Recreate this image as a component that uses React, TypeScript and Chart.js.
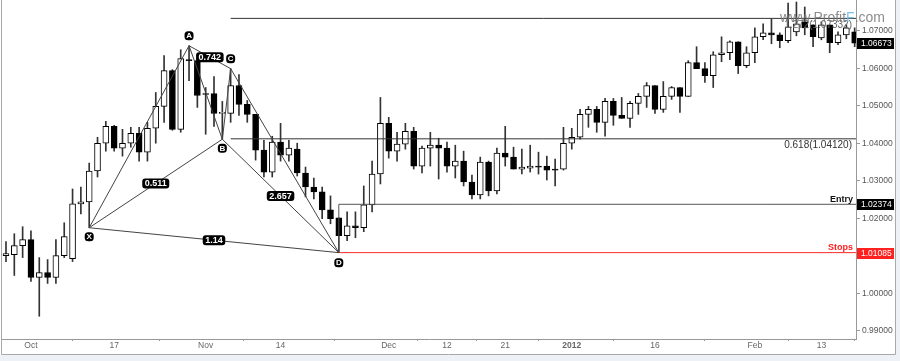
import React, { useEffect, useRef } from 'react';
import { Chart, registerables } from 'chart.js';
Chart.register(...registerables);

// Daily candles, 28 Sep 2011 .. 17 Feb 2012 (business days)
const opens = [
  1.01006, 1.01033, 1.01272, 1.01431, 1.00423, 1.00556, 1.00423, 1.01006, 1.00927, 1.02385,
  1.02438, 1.03261, 1.04003, 1.04454, 1.03871, 1.04003, 1.04268, 1.03764, 1.04401, 1.04984,
  1.05939, 1.04374, 1.06231, 1.06204, 1.05329, 1.05329, 1.04799, 1.04799, 1.05541, 1.05037,
  1.04772, 1.03817, 1.03234, 1.04030, 1.03685, 1.03844, 1.03208, 1.02836, 1.02704, 1.02226,
  1.02014, 1.01537, 1.01802, 1.01749, 1.02359, 1.03181, 1.04534, 1.03791, 1.03977, 1.04321,
  1.03393, 1.03871, 1.03950, 1.03871, 1.03393, 1.03526, 1.02969, 1.02624, 1.03499, 1.02730,
  1.03738, 1.03632, 1.03314, 1.03340, 1.03393, 1.03393, 1.03314, 1.03314, 1.04003, 1.04162,
  1.04772, 1.04905, 1.04560, 1.05117, 1.04746, 1.04666, 1.05064, 1.05250, 1.05541, 1.04905,
  1.05250, 1.05488, 1.05250, 1.06151, 1.05992, 1.05807, 1.06363, 1.06416, 1.06708, 1.06072,
  1.06416, 1.06841, 1.06947, 1.06894, 1.06735, 1.06973, 1.07239, 1.07159, 1.06814, 1.07159,
  1.06682, 1.06894, 1.06973,
];
const highs = [
  1.01378, 1.01590, 1.01776, 1.01669, 1.00953, 1.00900, 1.01431, 1.01882, 1.02783, 1.02836,
  1.03473, 1.04162, 1.04587, 1.04481, 1.04374, 1.04427, 1.04427, 1.04560, 1.05356, 1.06337,
  1.05966, 1.06496, 1.06602, 1.06231, 1.05488, 1.05780, 1.05117, 1.05992, 1.05833, 1.05143,
  1.04772, 1.04083, 1.04189, 1.04534, 1.04083, 1.04003, 1.03367, 1.03075, 1.02836, 1.02598,
  1.02014, 1.02173, 1.02173, 1.02863, 1.03526, 1.05223, 1.04693, 1.04295, 1.04534, 1.04427,
  1.03924, 1.04295, 1.04136, 1.04030, 1.03950, 1.03791, 1.03155, 1.03632, 1.03526, 1.03871,
  1.04454, 1.03897, 1.03844, 1.03950, 1.03764, 1.03658, 1.03579, 1.04427, 1.04401, 1.04905,
  1.04984, 1.04984, 1.05197, 1.05197, 1.05223, 1.05117, 1.05329, 1.05621, 1.05541, 1.05647,
  1.05515, 1.05488, 1.06204, 1.06576, 1.06151, 1.06443, 1.06841, 1.06735, 1.06708, 1.06576,
  1.07079, 1.07186, 1.07318, 1.06947, 1.07742, 1.07769, 1.07636, 1.07159, 1.07239, 1.07159,
  1.06973, 1.07159, 1.07079,
];
const lows = [
  1.00847, 1.00476, 1.00953, 1.00317, 0.99389, 1.00264, 1.00264, 1.00953, 1.00847, 1.02120,
  1.01749, 1.03102, 1.03791, 1.03791, 1.03658, 1.03897, 1.03526, 1.03526, 1.04003, 1.04560,
  1.04348, 1.04295, 1.05674, 1.04958, 1.04242, 1.04454, 1.04109, 1.04560, 1.04746, 1.04560,
  1.03552, 1.03102, 1.03102, 1.03526, 1.03526, 1.03128, 1.02571, 1.02518, 1.01988, 1.01855,
  1.01085, 1.01404, 1.01484, 1.01643, 1.02173, 1.02916, 1.03605, 1.03526, 1.03844, 1.03314,
  1.03208, 1.03393, 1.03048, 1.03234, 1.03075, 1.02863, 1.02518, 1.02518, 1.02598, 1.02651,
  1.03393, 1.03314, 1.03181, 1.03234, 1.03181, 1.03022, 1.02863, 1.03287, 1.03844, 1.04109,
  1.04427, 1.04295, 1.04189, 1.04481, 1.04666, 1.04427, 1.04772, 1.04958, 1.04799, 1.04825,
  1.05170, 1.04825, 1.05250, 1.05992, 1.05621, 1.05488, 1.06178, 1.06231, 1.05860, 1.06019,
  1.06151, 1.06761, 1.06655, 1.06549, 1.06682, 1.06867, 1.06894, 1.06576, 1.06761, 1.06416,
  1.06629, 1.06788, 1.06576,
];
const closes = [
  1.01059, 1.01272, 1.01431, 1.00423, 1.00556, 1.00423, 1.01006, 1.01510, 1.02385, 1.02438,
  1.03261, 1.04003, 1.04454, 1.03871, 1.04003, 1.04268, 1.03764, 1.04401, 1.04984, 1.05939,
  1.04374, 1.06257, 1.06204, 1.05276, 1.05303, 1.04799, 1.04825, 1.05541, 1.05037, 1.04772,
  1.03817, 1.03234, 1.04030, 1.03685, 1.03871, 1.03208, 1.02836, 1.02704, 1.02226, 1.01988,
  1.01537, 1.01802, 1.01749, 1.02359, 1.03181, 1.04534, 1.03791, 1.03977, 1.04321, 1.03393,
  1.03871, 1.03950, 1.03871, 1.03393, 1.03526, 1.02969, 1.02624, 1.03499, 1.02730, 1.03738,
  1.03632, 1.03314, 1.03367, 1.03393, 1.03367, 1.03287, 1.03287, 1.04003, 1.04162, 1.04772,
  1.04905, 1.04560, 1.05117, 1.04746, 1.04666, 1.05064, 1.05250, 1.05541, 1.04905, 1.05250,
  1.05488, 1.05250, 1.06151, 1.05992, 1.05807, 1.06363, 1.06416, 1.06708, 1.06072, 1.06416,
  1.06841, 1.06947, 1.06894, 1.06735, 1.07106, 1.07186, 1.07079, 1.06841, 1.07159, 1.06682,
  1.06894, 1.07079, 1.06673,
];

const xTickIndex = [3, 13, 24, 33, 46, 53, 60, 68, 78, 90, 98];
const xTickLabels = ['Oct', '17', 'Nov', '14', 'Dec', '12', '21', '2012', '16', 'Feb', '13'];
const yTicks = [0.99, 1.0, 1.01, 1.02, 1.03, 1.04, 1.05, 1.06, 1.07];
const yMin = 0.98782;
const yMax = 1.07822;
const xMin = -0.48;
const xMax = 102.16;

// Harmonic pattern points
const patternNames = ['X', 'A', 'B', 'C', 'D'];
const patternIndex = [10, 22, 26, 27, 40];
const patternPrice = [1.01749, 1.06602, 1.04109, 1.05992, 1.01085];
// legs with ratio labels
const ratioFrom = [0, 0, 1, 2];
const ratioTo = [2, 4, 3, 4];
const ratioLabels = ['0.511', '1.14', '0.742', '2.657'];

const fibStartIndex = 27;
const fibLevels = [1.0412, 1.07332];
const fibLabels = ['0.618(1.04120)', '1.272(1.07332)'];
const entryPrice = 1.02374;
const stopPrice = 1.01085;
const lastPrice = closes[closes.length - 1];

const FONT = "'Liberation Sans', Arial, sans-serif";

export default function App() {
  const ref = useRef<HTMLCanvasElement | null>(null);

  useEffect(() => {
    document.body.style.margin = '0';
    const canvas = ref.current;
    if (!canvas) return;

    const idx = closes.map((_, i) => i);
    const bodyColors = idx.map((i) => (closes[i] >= opens[i] ? '#ffffff' : '#000000'));

    const pt = (k: number) => ({ x: patternIndex[k], y: patternPrice[k] });
    const lineDs = (data: any[], color: string, order = 0) => ({
      type: 'line' as const,
      data,
      borderColor: color,
      borderWidth: 1,
      pointRadius: 0,
      fill: false,
      tension: 0,
      order,
    });

    const bgPlugin = {
      id: 'bg',
      beforeDraw(chart: any) {
        const c = chart.ctx;
        c.save();
        c.fillStyle = '#eef1f5';
        c.fillRect(0, 0, 900, 361);
        c.fillStyle = '#ffffff';
        c.fillRect(0, 0, 896, 355);
        c.strokeStyle = '#a9a9a9';
        c.lineWidth = 1;
        c.beginPath();
        c.moveTo(1.5, 0);
        c.lineTo(1.5, 354.5);
        c.lineTo(895.5, 354.5);
        c.lineTo(895.5, 0);
        c.stroke();
        c.restore();
      },
    };

    const roundRect = (c: CanvasRenderingContext2D, x: number, y: number, w: number, h: number, r: number) => {
      c.beginPath();
      c.moveTo(x + r, y);
      c.lineTo(x + w - r, y);
      c.arcTo(x + w, y, x + w, y + r, r);
      c.lineTo(x + w, y + h - r);
      c.arcTo(x + w, y + h, x + w - r, y + h, r);
      c.lineTo(x + r, y + h);
      c.arcTo(x, y + h, x, y + h - r, r);
      c.lineTo(x, y + r);
      c.arcTo(x, y, x + r, y, r);
      c.closePath();
    };

    const annoPlugin = {
      id: 'anno',
      afterDatasetsDraw(chart: any) {
        const c: CanvasRenderingContext2D = chart.ctx;
        const xs = chart.scales.x;
        const ys = chart.scales.y;
        const right = chart.chartArea.right;
        c.save();
        c.font = `bold 9px ${FONT}`;
        c.textAlign = 'center';
        c.textBaseline = 'middle';
        ratioLabels.forEach((lab, k) => {
          const a = ratioFrom[k];
          const b = ratioTo[k];
          const px = (xs.getPixelForValue(patternIndex[a]) + xs.getPixelForValue(patternIndex[b])) / 2;
          const py = (ys.getPixelForValue(patternPrice[a]) + ys.getPixelForValue(patternPrice[b])) / 2;
          const w = c.measureText(lab).width + 5;
          c.fillStyle = '#000';
          roundRect(c, px - w / 2, py - 5, w, 10, 3);
          c.fill();
          c.fillStyle = '#fff';
          c.fillText(lab, px, py + 0.5);
        });
        const offs = [9, -10, 9, -10, 10];
        patternNames.forEach((n, k) => {
          const px = xs.getPixelForValue(patternIndex[k]);
          const py = ys.getPixelForValue(patternPrice[k]) + offs[k];
          c.fillStyle = '#000';
          roundRect(c, px - 4.5, py - 4.5, 9, 9, 3.5);
          c.fill();
          c.fillStyle = '#fff';
          c.font = `bold 8px ${FONT}`;
          c.fillText(n, px, py + 0.5);
        });
        c.font = `10px ${FONT}`;
        c.textAlign = 'right';
        c.textBaseline = 'top';
        fibLevels.forEach((lv, k) => {
          c.fillStyle = k === 0 ? '#333' : '#666';
          c.fillText(fibLabels[k], right - 4, ys.getPixelForValue(lv) + 1.5);
        });
        c.font = `bold 9px ${FONT}`;
        c.textBaseline = 'bottom';
        c.fillStyle = '#111';
        c.fillText('Entry', right - 3, ys.getPixelForValue(entryPrice) - 0.5);
        c.fillStyle = '#ff2020';
        c.fillText('Stops', right - 3, ys.getPixelForValue(stopPrice) - 0.5);
        c.restore();
      },
      afterDraw(chart: any) {
        const c: CanvasRenderingContext2D = chart.ctx;
        const ys = chart.scales.y;
        const right = chart.chartArea.right;
        c.save();
        const tags = [
          { v: lastPrice, col: '#000' },
          { v: entryPrice, col: '#000' },
          { v: stopPrice, col: '#ff2020' },
        ];
        c.font = `8.5px ${FONT}`;
        c.textAlign = 'left';
        c.textBaseline = 'middle';
        tags.forEach((t) => {
          const py = Math.round(ys.getPixelForValue(t.v)) + 0.5;
          c.fillStyle = t.col;
          c.fillRect(right + 1, py - 5.5, 37, 11);
          c.fillStyle = '#fff';
          c.fillText(t.v.toFixed(5), right + 5, py + 0.5);
        });
        // watermark
        c.font = `14px ${FONT}`;
        c.textBaseline = 'alphabetic';
        let x = 780;
        const parts = [
          { s: 'www.Profit', col: 'rgba(120,120,120,0.85)' },
          { s: 'F', col: 'rgba(110,185,235,0.9)' },
          { s: '.com', col: 'rgba(120,120,120,0.85)' },
        ];
        parts.forEach((p) => {
          c.fillStyle = p.col;
          c.fillText(p.s, x, 22);
          x += c.measureText(p.s).width;
        });
        c.restore();
      },
    };

    const chart = new Chart(canvas, {
      type: 'bar',
      data: {
        datasets: [
          lineDs([pt(0), pt(1), pt(2), pt(3), pt(4)], '#444'),
          lineDs([pt(0), pt(2)], '#444'),
          lineDs([pt(0), pt(4)], '#444'),
          lineDs([pt(1), pt(3)], '#444'),
          lineDs([pt(2), pt(4)], '#444'),
          lineDs([{ x: fibStartIndex, y: fibLevels[0] }, { x: xMax + 2, y: fibLevels[0] }], '#333'),
          lineDs([{ x: fibStartIndex, y: fibLevels[1] }, { x: xMax + 2, y: fibLevels[1] }], '#333'),
          lineDs(
            [
              { x: patternIndex[4], y: stopPrice },
              { x: patternIndex[4], y: entryPrice },
              { x: xMax + 2, y: entryPrice },
            ],
            '#555'
          ),
          lineDs([{ x: patternIndex[4], y: stopPrice }, { x: xMax + 2, y: stopPrice }], '#ff2a2a'),
          {
            type: 'bar' as const,
            data: idx.map((i) => ({ x: i, y: [opens[i], closes[i]] })),
            backgroundColor: bodyColors,
            borderColor: '#000',
            borderWidth: 1,
            borderSkipped: false,
            barThickness: 6,
            grouped: false,
            order: 1,
          } as any,
          {
            type: 'bar' as const,
            data: idx.map((i) => ({ x: i, y: [lows[i], highs[i]] })),
            backgroundColor: '#333',
            borderWidth: 0,
            barThickness: 1,
            grouped: false,
            order: 2,
          } as any,
        ],
      },
      options: {
        animation: false,
        responsive: false,
        maintainAspectRatio: false,
        devicePixelRatio: 1,
        layout: { padding: { left: 2, top: 0, right: 0, bottom: 0 } },
        plugins: { legend: { display: false }, tooltip: { enabled: false } },
        scales: {
          x: {
            type: 'linear',
            min: xMin,
            max: xMax,
            offset: false,
            grid: { display: true, drawOnChartArea: false, drawTicks: true, tickLength: 2, color: '#999' },
            border: { display: true, color: '#999' },
            afterBuildTicks: (s: any) => {
              s.ticks = xTickIndex.map((v) => ({ value: v }));
            },
            afterFit: (s: any) => {
              s.height = 22;
              s.paddingLeft = 0;
              s.paddingRight = 0;
            },
            ticks: {
              autoSkip: false,
              maxRotation: 0,
              padding: 0,
              color: '#666',
              font: (ctx: any) => ({
                size: 8.5,
                family: FONT,
                weight: ctx.tick && ctx.tick.label === '2012' ? 'bold' : 'normal',
              }),
              callback: (v: any) => {
                const k = xTickIndex.indexOf(Number(v));
                return k >= 0 ? xTickLabels[k] : '';
              },
            },
          },
          y: {
            type: 'linear',
            position: 'right',
            min: yMin,
            max: yMax,
            grid: { display: true, drawOnChartArea: false, drawTicks: true, tickLength: 4, color: '#999' },
            border: { display: true, color: '#999' },
            afterBuildTicks: (s: any) => {
              s.ticks = yTicks.map((v) => ({ value: v }));
            },
            afterFit: (s: any) => {
              s.width = 44;
              s.paddingTop = 0;
              s.paddingBottom = 0;
            },
            ticks: {
              padding: 2,
              color: '#555',
              font: { size: 8.5, family: FONT },
              callback: (v: any) => Number(v).toFixed(5),
            },
          },
        },
      },
      plugins: [bgPlugin, annoPlugin],
    } as any);

    return () => chart.destroy();
  }, []);

  return (
    <div style={{ width: 900, height: 361 }}>
      <canvas ref={ref} width={900} height={361} style={{ display: 'block' }} />
    </div>
  );
}
